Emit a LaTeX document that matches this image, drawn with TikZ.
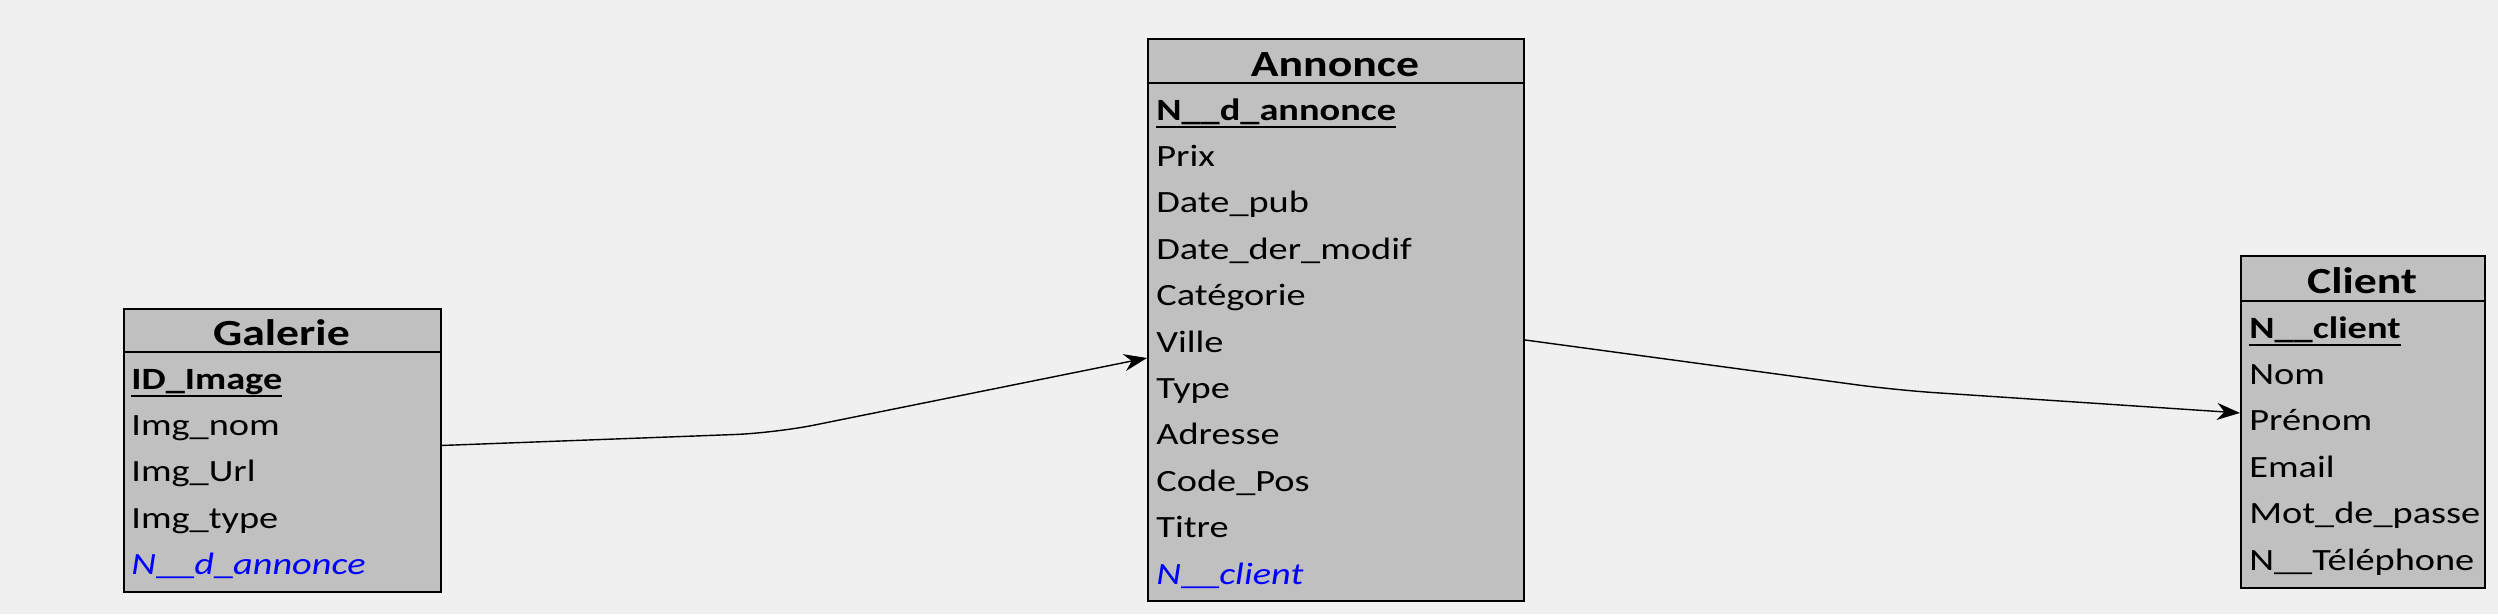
\documentclass[tikz,border=0pt]{standalone}
\usepackage{fontspec}
\setmainfont{Carlito}[FakeStretch=1.24]
\usepackage{xcolor}
\usetikzlibrary{
    calc,
    arrows.meta
}
\definecolor{pagebg}{HTML}{F0F0F0}
\definecolor{tabfill}{HTML}{C0C0C0}
\definecolor{fkblue}{HTML}{0000FF}
% primary key: bold, underlined / foreign key: blue italic
\newcommand{\pkey}[1]{\setbox0=\hbox{\bfseries #1}\rlap{\rule[-4.6pt]{\wd0}{1.1pt}}\box0}
\newcommand{\fkey}[1]{\textcolor{fkblue}{\itshape #1}}
\newcommand{\us}{{\upshape\_}}
\tikzset{
    tabbox/.style={draw=black, line width=1.1pt, fill=tabfill, inner sep=0pt, anchor=north west},
    tabline/.style={line width=1.1pt},
    tabhead/.style={inner sep=0pt, anchor=base, font=\fontsize{21}{24}\selectfont\bfseries},
    field/.style={inner sep=0pt, anchor=base west, font=\fontsize{17.6}{20}\selectfont},
    link/.style={draw=black, line width=0.8pt, rounded corners=8mm, -{Stealth[length=4.6mm,width=3.4mm]}},
}

\begin{document}
\begin{tikzpicture}[x=0.2mm,y=-0.2mm]
    \fill[pagebg] (0,0) rectangle (2498,614);
    % Galerie
    \node[tabbox, minimum width=317*0.2mm, minimum height=283*0.2mm] (galerie) at (123,308) {};
    \draw[tabline] (123,352) -- (440,352);
    \node[tabhead] (galerie-h) at (281.5,345) {Galerie};
    \foreach \f [count=\i] in {\pkey{ID\_Image}, Img\_nom, Img\_Url, Img\_type, \fkey{N\us\us d\us annonce}}
        \node[field] (galerie-\i) at (131,{389+46.4*(\i-1)}) {\f};
    % Annonce
    \node[tabbox, minimum width=376*0.2mm, minimum height=562*0.2mm] (annonce) at (1147,38) {};
    \draw[tabline] (1147,83) -- (1523,83);
    \node[tabhead] (annonce-h) at (1335,76) {Annonce};
    \foreach \f [count=\i] in {\pkey{N\_\_d\_annonce}, Prix, Date\_pub, Date\_der\_modif, Catégorie, Ville, Type, Adresse, Code\_Pos, Titre, \fkey{N\us\us client}}
        \node[field] (annonce-\i) at (1156,{120+46.4*(\i-1)}) {\f};
    % Client
    \node[tabbox, minimum width=244*0.2mm, minimum height=332*0.2mm] (client) at (2240,255) {};
    \draw[tabline] (2240,301) -- (2484,301);
    \node[tabhead] (client-h) at (2362,293) {Client};
    \foreach \f [count=\i] in {\pkey{N\_\_client}, Nom, Prénom, Email, Mot\_de\_passe, N\_\_Téléphone}
        \node[field] (client-\i) at (2249,{338+46.4*(\i-1)}) {\f};
    % links
    \coordinate (bend1) at (775,433);
    \coordinate (bend2) at (1895,390);
    \draw[link] ($(galerie.east)+(0,-5)$) -- (bend1) -- ($(annonce.west)+(0,38)$);
    \draw[link] ($(annonce.east)+(0,20)$) -- (bend2) -- ($(client.west)+(0,-9)$);
\end{tikzpicture}
\end{document}
